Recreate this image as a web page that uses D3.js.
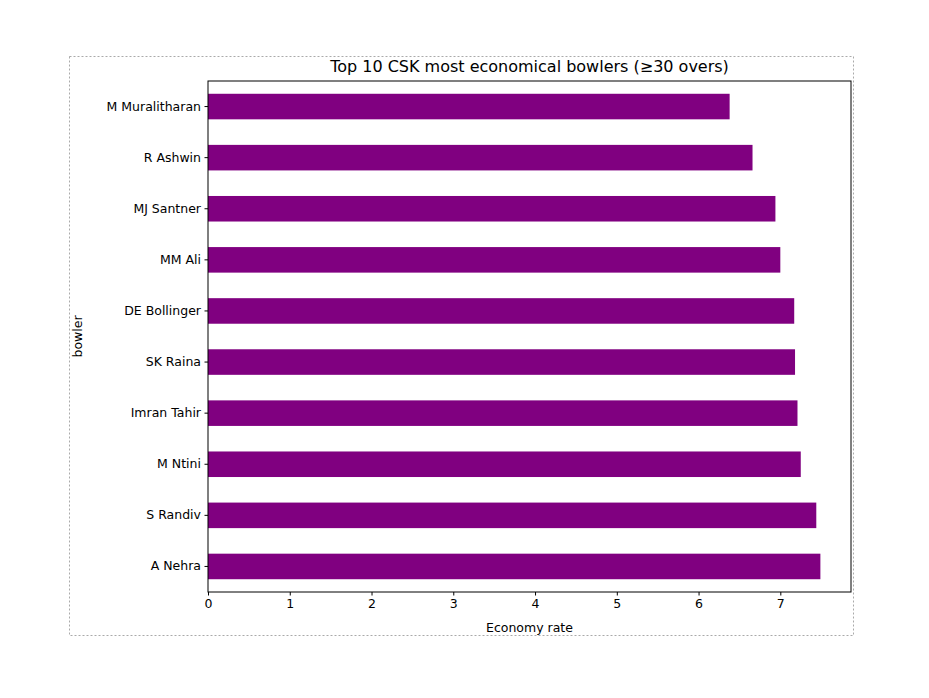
<!DOCTYPE html>
<html><head><meta charset="utf-8">
<script src="https://cdn.jsdelivr.net/npm/d3@7"></script>
<style>body{margin:0;background:#fff}text{font-family:"DejaVu Sans",sans-serif}</style>
</head><body><div id="chart"></div>
<script>
const bowlers = ["M Muralitharan","R Ashwin","MJ Santner","MM Ali","DE Bollinger","SK Raina","Imran Tahir","M Ntini","S Randiv","A Nehra"];
const economy = [6.38, 6.66, 6.94, 7.0, 7.17, 7.18, 7.21, 7.25, 7.44, 7.49];
const xTicks = [0,1,2,3,4,5,6,7];

const W = 929, H = 698;
const margin = {top: 81, right: 78, bottom: 106, left: 208};
const width = W - margin.left - margin.right, height = H - margin.top - margin.bottom;

const svg = d3.select("#chart").append("svg").attr("width", W).attr("height", H);
svg.append("rect").attr("x", 69.5).attr("y", 56.5).attr("width", 784).attr("height", 579)
  .attr("fill", "none").attr("stroke", "#aaa").attr("stroke-dasharray", "2,2");

const g = svg.append("g").attr("transform", "translate(" + margin.left + "," + margin.top + ")");
const x = d3.scaleLinear().domain([0, d3.max(economy) * 1.05]).range([0, width]);
const y = d3.scaleBand().domain(bowlers).range([0, height]).paddingInner(0.5).paddingOuter(0.25);

g.selectAll(".bar").data(bowlers).enter().append("rect")
  .attr("x", 0).attr("y", d => y(d))
  .attr("width", (d, i) => x(economy[i])).attr("height", y.bandwidth())
  .attr("fill", "#800080");

const xa = g.append("g").attr("transform", "translate(0," + height + ")")
  .call(d3.axisBottom(x).tickValues(xTicks).tickSize(3.5).tickPadding(3.5).tickFormat(d3.format("d")));
const ya = g.append("g").call(d3.axisLeft(y).tickSize(3.5).tickPadding(3.5));
[xa, ya].forEach(a => { a.selectAll("text").attr("font-size", 12.5).attr("fill", "#000").style("font-family", "DejaVu Sans"); a.select(".domain").remove(); });

g.append("rect").attr("width", width).attr("height", height).attr("fill", "none").attr("stroke", "#000");

svg.append("text").attr("x", margin.left + width / 2).attr("y", 72).attr("text-anchor", "middle")
  .attr("font-size", 16).text("Top 10 CSK most economical bowlers (≥30 overs)");
svg.append("text").attr("x", margin.left + width / 2).attr("y", 632).attr("text-anchor", "middle")
  .attr("font-size", 12.5).text("Economy rate");
svg.append("text").attr("transform", "translate(82," + (margin.top + height / 2) + ") rotate(-90)")
  .attr("text-anchor", "middle").attr("font-size", 12.5).text("bowler");
</script></body></html>
